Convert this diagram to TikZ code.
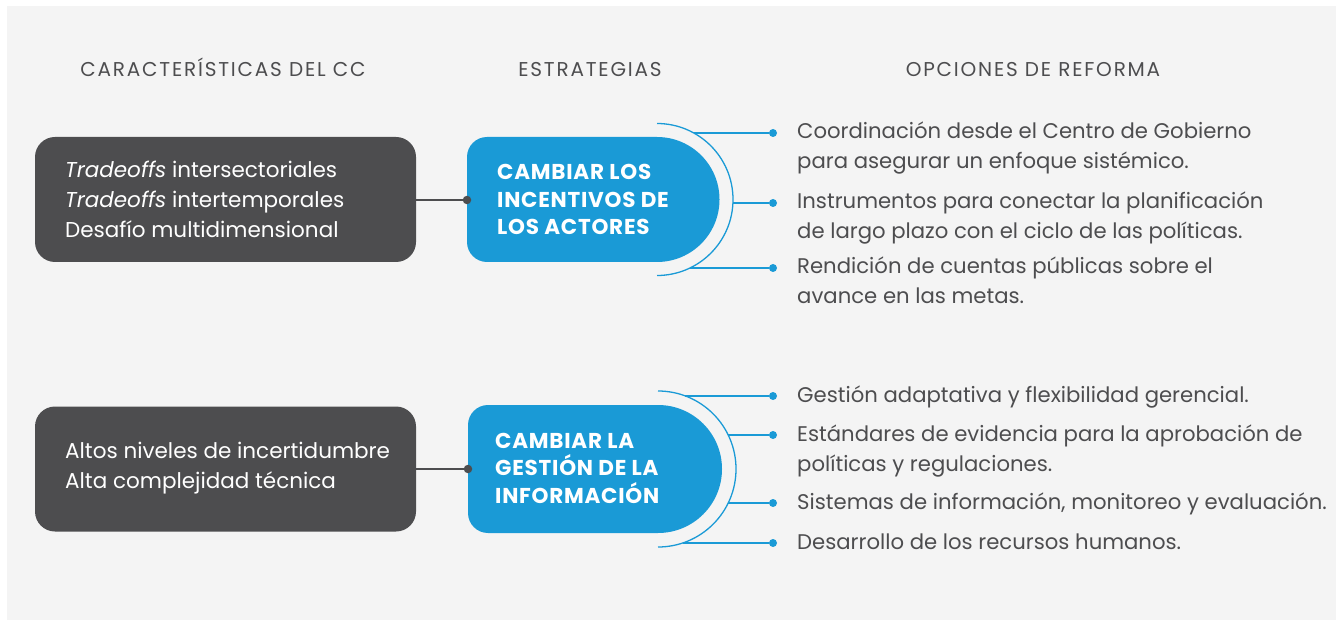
\documentclass[tikz,border=0pt]{standalone}
\usepackage{fontspec}
\setmainfont{Poppins}
\usetikzlibrary{positioning}

\definecolor{ccgray}{HTML}{4D4D4F}
\definecolor{ccblue}{HTML}{1A9AD6}
\definecolor{ccbg}{HTML}{F4F4F4}

\begin{document}
\begin{tikzpicture}[x=1pt,y=-1pt]

% Define styles
\tikzstyle{feature}=[fill=ccgray, rounded corners=20pt, minimum width=381pt, minimum height=125pt, inner sep=0pt]
\tikzstyle{feattext}=[text=white, anchor=west, inner sep=0pt, align=left, font=\fontsize{21.5}{30}\selectfont]
\tikzstyle{strategy}=[fill=ccblue]
\tikzstyle{strattext}=[text=white, anchor=west, inner sep=0pt, align=left, font=\bfseries\fontsize{21.5}{27.5}\selectfont\addfontfeature{LetterSpace=3.5}]
\tikzstyle{header}=[text=ccgray, anchor=base, inner sep=0pt, font=\fontsize{20}{24}\selectfont\addfontfeature{LetterSpace=9}]
\tikzstyle{reform}=[text=ccgray, anchor=base west, inner sep=0pt, align=left, font=\fontsize{21.2}{30}\selectfont]
\tikzstyle{bdot}=[circle, fill=ccblue, inner sep=0pt, minimum size=8pt]
\tikzstyle{joint}=[circle, fill=ccgray, inner sep=0pt, minimum size=8.5pt]
\tikzstyle{branch}=[ccblue, line width=1.3pt]

% Background
\useasboundingbox (0,0) rectangle (1336,620);
\fill[ccbg] (7,6) rectangle (1336,620);

% Headers
\node[header] (h1) at (223,77) {CARACTERÍSTICAS DEL CC};
\node[header] (h2) at (590,77) {ESTRATEGIAS};
\node[header] (h3) at (1033,77) {OPCIONES DE REFORMA};

% Characteristics
\node[feature] (cc1) at (225.5,199.5) {};
\node[feature] (cc2) at (225.5,469) {};
\node[feattext] (ct1) at (65,199.5) {\textit{Tradeoffs} intersectoriales\\\textit{Tradeoffs} intertemporales\\Desafío multidimensional};
\node[feattext] (ct2) at (65,468) {Altos niveles de incertidumbre\\Alta complejidad técnica};

% Strategies
\fill[strategy] (657,137) -- (487,137) arc[start angle=270, end angle=180, radius=20] -- (467,242) arc[start angle=180, end angle=90, radius=20] -- (657,262) arc[start angle=90, end angle=-90, radius=62.5] -- cycle;
\fill[strategy] (658,405) -- (488,405) arc[start angle=270, end angle=180, radius=20] -- (468,513) arc[start angle=180, end angle=90, radius=20] -- (658,533) arc[start angle=90, end angle=-90, radius=64] -- cycle;
\node[strattext] (st1) at (497,199.5) {CAMBIAR LOS\\INCENTIVOS DE\\LOS ACTORES};
\node[strattext] (st2) at (495,468) {CAMBIAR LA\\GESTIÓN DE LA\\INFORMACIÓN};

\node[joint] (j1) at (467,200) {};
\node[joint] (j2) at (468,469) {};
\draw[ccgray, line width=1.5pt] (cc1.east |- j1) -- (j1);
\draw[ccgray, line width=1.5pt] (cc2.east |- j2) -- (j2);

% Arcs
\draw[branch] (657,123.5) arc[start angle=-90, end angle=90, radius=76];
\draw[branch] (658,391) arc[start angle=-90, end angle=90, radius=78];

% Reform options (y of dot / number of lines / name / text)
\foreach \yy/\lines/\nm/\txt in {
  133/2/o1/Coordinación desde el Centro de Gobierno\\para asegurar un enfoque sistémico.,
  203/2/o2/Instrumentos para conectar la planificación\\de largo plazo con el ciclo de las políticas.,
  268/2/o3/Rendición de cuentas públicas sobre el\\avance en las metas.
} {
  \node[bdot] (d\nm) at (773,\yy) {};
  \draw[branch] ({657+sqrt(76*76-(\yy-199.5)*(\yy-199.5))},\yy) -- (d\nm);
  \node[reform] (\nm) at (797,\yy+6+30*\lines-30) {\txt};
}

\foreach \yy/\lines/\nm/\txt in {
  396/1/o4/Gestión adaptativa y flexibilidad gerencial.,
  435/2/o5/Estándares de evidencia para la aprobación de\\políticas y regulaciones.,
  503/1/o6/{Sistemas de información, monitoreo y evaluación.},
  543/1/o7/Desarrollo de los recursos humanos.
} {
  \node[bdot] (d\nm) at (773,\yy) {};
  \draw[branch] ({658+sqrt(78*78-(\yy-469)*(\yy-469))},\yy) -- (d\nm);
  \node[reform] (\nm) at (797,\yy+6+30*\lines-30) {\txt};
}

\end{tikzpicture}
\end{document}
